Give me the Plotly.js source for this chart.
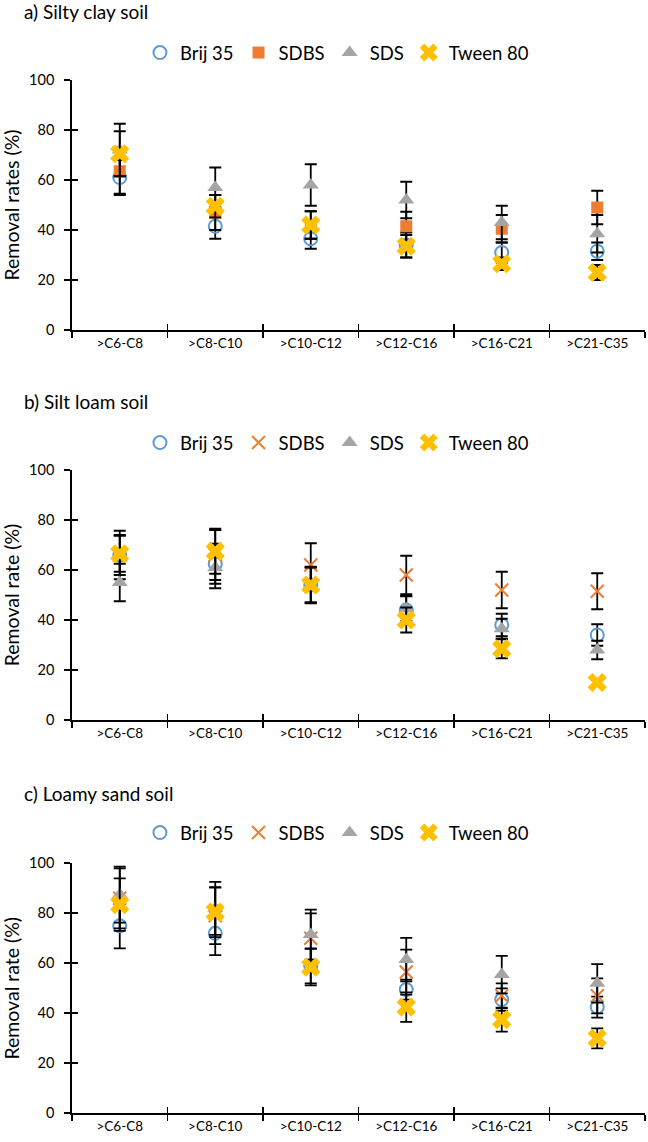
<!DOCTYPE html>
<html>
<head>
<meta charset="utf-8">
<script src="https://cdn.plot.ly/plotly-3.0.1.min.js"></script>
<style>html,body{margin:0;padding:0;background:#fff;}#chart{width:648px;height:1142px;}</style>
</head>
<body>
<div id="chart"></div>
<script>
// ---- data ----
var categories = ['>C6-C8', '>C8-C10', '>C10-C12', '>C12-C16', '>C16-C21', '>C21-C35'];
var seriesNames = ['Brij 35', 'SDBS', 'SDS', 'Tween 80'];

// a) Silty clay soil
var a_brij  = [61, 41.5, 36.5, 34, 31, 31.5];
var a_sdbs  = [63.5, 47, 42, 41.5, 40.5, 49];
var a_sds   = [72, 57, 58, 52, 43, 38.5];
var a_tween = [70.5, 49.5, 42, 33.5, 26.5, 23];
var a_brij_err  = [7, 5, 4, 5, 4, 3.5];
var a_sdbs_err  = [9, 7, 5.5, 5.8, 5.5, 6.7];
var a_sds_err   = [10.5, 8, 8.3, 7.3, 6.7, 7.5];
var a_tween_err = [9, 4.5, 5.5, 4.5, 2.5, 3];

// b) Silt loam soil
var b_brij  = [66, 62.5, 54, 44, 38, 34];
var b_sdbs  = [66, 66, 62, 58, 52, 51.5];
var b_sds   = [55, 61, 54, 44.5, 36.5, 28];
var b_tween = [66.5, 67.5, 54, 40, 28.5, 15];
var b_brij_err  = [9.7, 8, 7, 5.6, 4.5, 4.3];
var b_sdbs_err  = [8, 10, 8.7, 7.7, 7.3, 7.2];
var b_sds_err   = [7.5, 8.3, 7.3, 5, 4, 3.7];
var b_tween_err = [7.2, 9, 7, 5, 3.8, 1];

// c) Loamy sand soil
var c_brij  = [75, 72, 59, 49.5, 45.5, 42.5];
var c_sdbs  = [86, 79, 70, 56.5, 47, 47];
var c_sds   = [87.5, 82, 71.5, 61.5, 55.5, 52];
var c_tween = [83.5, 80.5, 58.5, 42.5, 37.5, 30];
var c_brij_err  = [9, 8.7, 7, 4, 4.5, 4.2];
var c_sdbs_err  = [12, 11.3, 10, 9, 5, 7];
var c_sds_err   = [11.2, 10.6, 10, 8.7, 7.5, 7.7];
var c_tween_err = [10.5, 10, 7.3, 5.9, 4.8, 4];

var panelTitles = ['a) Silty clay soil', 'b) Silt loam soil', 'c) Loamy sand soil'];
var yTitles = ['Removal rates (%)', 'Removal rate (%)', 'Removal rate (%)'];
var yTickVals = [0, 20, 40, 60, 80, 100];

// ---- styling / layout ----
var W = 648, H = 1142;
var FONT = 'Lato, "Open Sans", sans-serif';
var colors = {brij: '#5B9BD5', sdbs: '#ED7D31', sds: '#A5A5A5', tween: '#FFC000'};
// plot area pixel boxes: [top px, bottom px]
var boxes = [[80, 330], [470, 720], [863.3, 1113.3]];
var legendY = [53, 443, 833];
var titleY = [11, 402, 793];
var xLeft = 72, xRight = 645;

function py(p) { return 1 - p / H; }

var panels = [
  {brij: a_brij, sdbs: a_sdbs, sds: a_sds, tween: a_tween, eb: a_brij_err, es: a_sdbs_err, ed: a_sds_err, et: a_tween_err, sdbsSym: 'square'},
  {brij: b_brij, sdbs: b_sdbs, sds: b_sds, tween: b_tween, eb: b_brij_err, es: b_sdbs_err, ed: b_sds_err, et: b_tween_err, sdbsSym: 'x-thin-open'},
  {brij: c_brij, sdbs: c_sdbs, sds: c_sds, tween: c_tween, eb: c_brij_err, es: c_sdbs_err, ed: c_sds_err, et: c_tween_err, sdbsSym: 'x-thin-open'}
];

function err(arr) {
  return {type: 'data', array: arr, visible: true, color: '#000000', thickness: 1.8, width: 6};
}

var traces = [];
var layout = {
  width: W, height: H,
  margin: {l: 0, r: 0, t: 0, b: 0},
  paper_bgcolor: '#ffffff', plot_bgcolor: '#ffffff',
  font: {family: FONT, color: '#000000'},
  showlegend: true,
  annotations: []
};

panels.forEach(function (p, i) {
  var n = i + 1;
  var xa = n === 1 ? 'x' : 'x' + n;
  var ya = n === 1 ? 'y' : 'y' + n;
  var lg = n === 1 ? 'legend' : 'legend' + n;
  var common = {type: 'scatter', mode: 'markers', x: categories, xaxis: xa, yaxis: ya, legend: lg, cliponaxis: false};

  traces.push(Object.assign({}, common, {
    name: seriesNames[0], y: p.brij, error_y: err(p.eb),
    marker: {symbol: 'circle-open', size: 13, color: colors.brij, line: {color: colors.brij, width: 2}}
  }));
  var sdbsMarker = p.sdbsSym === 'square'
    ? {symbol: 'square', size: 12, color: colors.sdbs, line: {width: 0}}
    : {symbol: 'x-thin-open', size: 13, color: colors.sdbs, line: {color: colors.sdbs, width: 2}};
  traces.push(Object.assign({}, common, {
    name: seriesNames[1], y: p.sdbs, error_y: err(p.es), marker: sdbsMarker
  }));
  traces.push(Object.assign({}, common, {
    name: seriesNames[2], y: p.sds, error_y: err(p.ed),
    marker: {symbol: 'triangle-up', size: 14, color: colors.sds, line: {width: 0}}
  }));
  traces.push(Object.assign({}, common, {
    name: seriesNames[3], y: p.tween, error_y: err(p.et),
    marker: {symbol: 'x', size: 17, color: colors.tween, line: {width: 0}}
  }));

  var dom = [py(boxes[i][1]), py(boxes[i][0])];
  var xdom = [xLeft / W, xRight / W];

  layout['xaxis' + (n === 1 ? '' : n)] = {
    type: 'category', domain: xdom, anchor: ya, range: [-0.5, 5.5],
    showline: true, linecolor: '#000000', linewidth: 1.8,
    ticks: 'outside', ticklen: 6, tickwidth: 1.8, tickcolor: '#000000', tickson: 'boundaries',
    showgrid: false, zeroline: false, fixedrange: true,
    tickfont: {family: FONT, size: 13.5, color: '#000000'}
  };
  layout['yaxis' + (n === 1 ? '' : n)] = {
    domain: dom, anchor: xa, range: [0, 100], tickvals: yTickVals,
    showline: true, linecolor: '#000000', linewidth: 1.8,
    ticks: 'outside', ticklen: 6, tickwidth: 1.8, tickcolor: '#000000',
    ticklabelstandoff: 7,
    showgrid: false, zeroline: false, fixedrange: true,
    tickfont: {family: FONT, size: 14.5, color: '#000000'},
    title: {text: yTitles[i], font: {family: FONT, size: 19.5, color: '#000000'}, standoff: 7}
  };
  // overlay axes to make crossing tick marks (inside half)
  var ox = 'xaxis' + (n + 3), oy = 'yaxis' + (n + 3);
  layout[ox] = {
    overlaying: xa, anchor: 'y' + (n + 3), range: [-0.5, 5.5],
    tickvals: [-0.5, 0.5, 1.5, 2.5, 3.5, 4.5, 5.5], showticklabels: false,
    ticks: 'inside', ticklen: 6, tickwidth: 1.8, tickcolor: '#000000',
    showline: false, showgrid: false, zeroline: false, fixedrange: true
  };
  layout[oy] = {
    overlaying: ya, anchor: 'x' + (n + 3), range: [0, 100],
    tickvals: yTickVals, showticklabels: false,
    ticks: 'inside', ticklen: 6, tickwidth: 1.8, tickcolor: '#000000',
    showline: false, showgrid: false, zeroline: false, fixedrange: true
  };
  traces.push({type: 'scatter', mode: 'markers', x: [], y: [], xaxis: 'x' + (n + 3), yaxis: 'y' + (n + 3), showlegend: false, hoverinfo: 'skip'});

  layout[lg] = {
    orientation: 'h', x: 0.52, xanchor: 'center', y: py(legendY[i]), yanchor: 'middle',
    itemwidth: 30, tracegroupgap: 0,
    font: {family: FONT, size: 18.5, color: '#000000'}, bgcolor: 'rgba(0,0,0,0)',
    itemclick: false, itemdoubleclick: false
  };

  layout.annotations.push({
    text: panelTitles[i], xref: 'paper', yref: 'paper', x: 22 / W, y: py(titleY[i]),
    xanchor: 'left', yanchor: 'middle', showarrow: false,
    font: {family: FONT, size: 19, color: '#000000'}
  });
});

Plotly.newPlot('chart', traces, layout, {staticPlot: true, displayModeBar: false});
</script>
</body>
</html>
